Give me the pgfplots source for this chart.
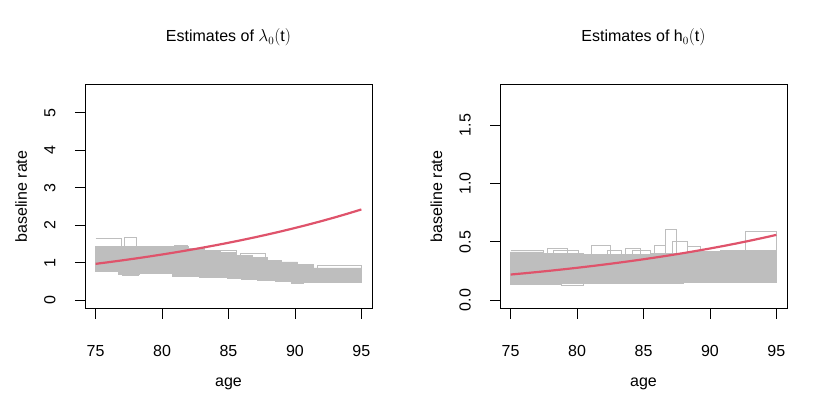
\documentclass[border=0pt]{standalone}
\usepackage{fontspec}
\setmainfont{Liberation Sans}
\usepackage{pgfplots}
\pgfplotsset{compat=1.18}
\definecolor{rred}{HTML}{DF536B}
\definecolor{rgray}{HTML}{BEBEBE}
\newcommand{\rfont}{\fontsize{16}{19.2}\selectfont}
\pgfplotsset{rstyle/.style={
  scale only axis, anchor=south west,
  width=287pt, height=224pt,
  xmin=74.2, xmax=95.8, xtick={75,80,...,95},
  axis line style={line width=0.8pt, black},
  tick align=outside, xtick pos=lower, ytick pos=left,
  major tick length=10pt, tick style={black, line width=0.8pt},
  /pgf/number format/assume math mode=true,
  xticklabel style={anchor=base, yshift=-37.7pt, font=\rfont},
  yticklabel style={xshift=-19.5pt, rotate=90, anchor=base, font=\rfont},
  title style={at={(axis description cs:0.5,1.1638)}, anchor=base, font=\rfont},
  xlabel style={at={(axis description cs:0.5,-0.3482)}, anchor=base, font=\rfont},
  ylabel style={at={(axis description cs:-0.2021,0.5)}, anchor=base, font=\rfont},
  xlabel={age}, ylabel={baseline rate},
  grayline/.style={rgray, line width=0.8pt},
  redline/.style={rred, line width=2.2pt},
}}
\begin{document}
\begin{tikzpicture}
\useasboundingbox (0,0) rectangle (830pt,415pt);
% ---------- left panel ----------
\begin{axis}[rstyle, at={(85pt,106.5pt)},
  ymin=-0.22, ymax=5.75, ytick={0,1,2,3,4,5},
  title={Estimates of $\lambda_0(\mathrm{t})$}]
\addplot[fill=rgray, draw=rgray, line width=0.8pt] coordinates {
 (75,1.44)(82.0,1.44)(82.0,1.38)(83.2,1.38)(83.2,1.33)(84.4,1.33)(84.4,1.27)(85.6,1.27)(85.6,1.20)(86.8,1.20)(86.8,1.14)(87.9,1.14)(87.9,1.06)(89.0,1.06)(89.0,1.02)(90.2,1.02)(90.2,0.96)(91.4,0.96)(91.4,0.86)(95,0.86)
 (95,0.47)(89.7,0.47)(89.7,0.51)(88.5,0.51)(88.5,0.53)(87.2,0.53)(87.2,0.56)(86,0.56)(86,0.58)(84.9,0.58)(84.9,0.62)(82.8,0.62)(82.8,0.64)(80.8,0.64)(80.8,0.72)(78.3,0.72)(78.3,0.69)(76.7,0.69)(76.7,0.756)(75,0.756)} -- cycle;
\addplot[grayline] coordinates {(75,1.66)(76.96,1.66)(76.96,1.44)};
\addplot[grayline] coordinates {(77.2,1.44)(77.2,1.68)(78.1,1.68)(78.1,1.44)};
\addplot[grayline] coordinates {(80.9,1.44)(80.9,1.47)(81.9,1.47)(81.9,1.44)};
\addplot[grayline] coordinates {(84.4,1.27)(84.4,1.33)(85.6,1.33)(85.6,1.20)};
\addplot[grayline] coordinates {(85.9,1.15)(85.9,1.24)(87.8,1.24)(87.8,1.06)};
\addplot[grayline] coordinates {(91.7,0.85)(91.7,0.93)(95,0.93)(95,0.85)};
\addplot[grayline] coordinates {(77.0,0.70)(77.0,0.66)(78.2,0.66)(78.2,0.70)};
\addplot[grayline] coordinates {(82.8,0.63)(82.8,0.60)(84.2,0.60)(84.2,0.62)};
\addplot[grayline] coordinates {(89.7,0.48)(89.7,0.45)(90.6,0.45)(90.6,0.47)};
\addplot[redline] coordinates {
 (75,0.9700)(76,1.0154)(77,1.0628)(78,1.1125)(79,1.1645)(80,1.2190)(81,1.2760)(82,1.3357)(83,1.3981)(84,1.4635)(85,1.5319)
 (86,1.6036)(87,1.6786)(88,1.7571)(89,1.8392)(90,1.9252)(91,2.0152)(92,2.1095)(93,2.2081)(94,2.3114)(95,2.4195)};
\end{axis}
% ---------- right panel ----------
\begin{axis}[rstyle, at={(500pt,106.5pt)},
  ymin=-0.071, ymax=1.849, ytick={0,0.5,1,1.5},
  yticklabel style={/pgf/number format/.cd, fixed, fixed zerofill, precision=1},
  title={Estimates of h$_0(\mathrm{t})$}]
\addplot[fill=rgray, draw=rgray, line width=0.8pt] coordinates {
 (75,0.414)(77.5,0.414)(77.5,0.40)(80.5,0.40)(80.5,0.39)(82.5,0.39)(82.5,0.395)(85.5,0.395)(85.5,0.40)(88.5,0.40)(88.5,0.42)(91,0.42)(91,0.428)(95,0.428)
 (95,0.15)(88,0.15)(88,0.145)(82,0.145)(82,0.14)(78.8,0.14)(78.8,0.135)(75,0.135)} -- cycle;
\addplot[grayline] coordinates {(75,0.43)(77.5,0.43)(77.5,0.41)};
\addplot[grayline] coordinates {(77.8,0.40)(77.8,0.447)(79.3,0.447)(79.3,0.40)};
\addplot[grayline] coordinates {(78.2,0.40)(78.2,0.43)(80.1,0.43)(80.1,0.40)};
\addplot[grayline] coordinates {(81.1,0.39)(81.1,0.471)(82.5,0.471)(82.5,0.39)};
\addplot[grayline] coordinates {(82.3,0.39)(82.3,0.43)(83.3,0.43)(83.3,0.39)};
\addplot[grayline] coordinates {(83.6,0.39)(83.6,0.447)(84.8,0.447)(84.8,0.39)};
\addplot[grayline] coordinates {(84.2,0.39)(84.2,0.428)(85.5,0.428)(85.5,0.39)};
\addplot[grayline] coordinates {(85.8,0.40)(85.8,0.471)(86.65,0.471)(86.65,0.40)};
\addplot[grayline] coordinates {(86.65,0.40)(86.65,0.606)(87.5,0.606)(87.5,0.40)};
\addplot[grayline] coordinates {(87.15,0.40)(87.15,0.508)(88.3,0.508)(88.3,0.40)};
\addplot[grayline] coordinates {(88.3,0.40)(88.3,0.457)(89.3,0.457)(89.3,0.42)};
\addplot[grayline] coordinates {(90.8,0.42)(90.8,0.43)(91.6,0.43)(91.6,0.42)};
\addplot[grayline] coordinates {(92.7,0.42)(92.7,0.586)(95,0.586)(95,0.42)};
\addplot[grayline] coordinates {(78.85,0.14)(78.85,0.13)(80.5,0.13)(80.5,0.14)};
\addplot[redline] coordinates {
 (75,0.2200)(76,0.2305)(77,0.2415)(78,0.2531)(79,0.2652)(80,0.2779)(81,0.2912)(82,0.3051)(83,0.3197)(84,0.3350)(85,0.3510)
 (86,0.3678)(87,0.3853)(88,0.4038)(89,0.4231)(90,0.4433)(91,0.4645)(92,0.4867)(93,0.5100)(94,0.5344)(95,0.5599)};
\end{axis}
\end{tikzpicture}
\end{document}
